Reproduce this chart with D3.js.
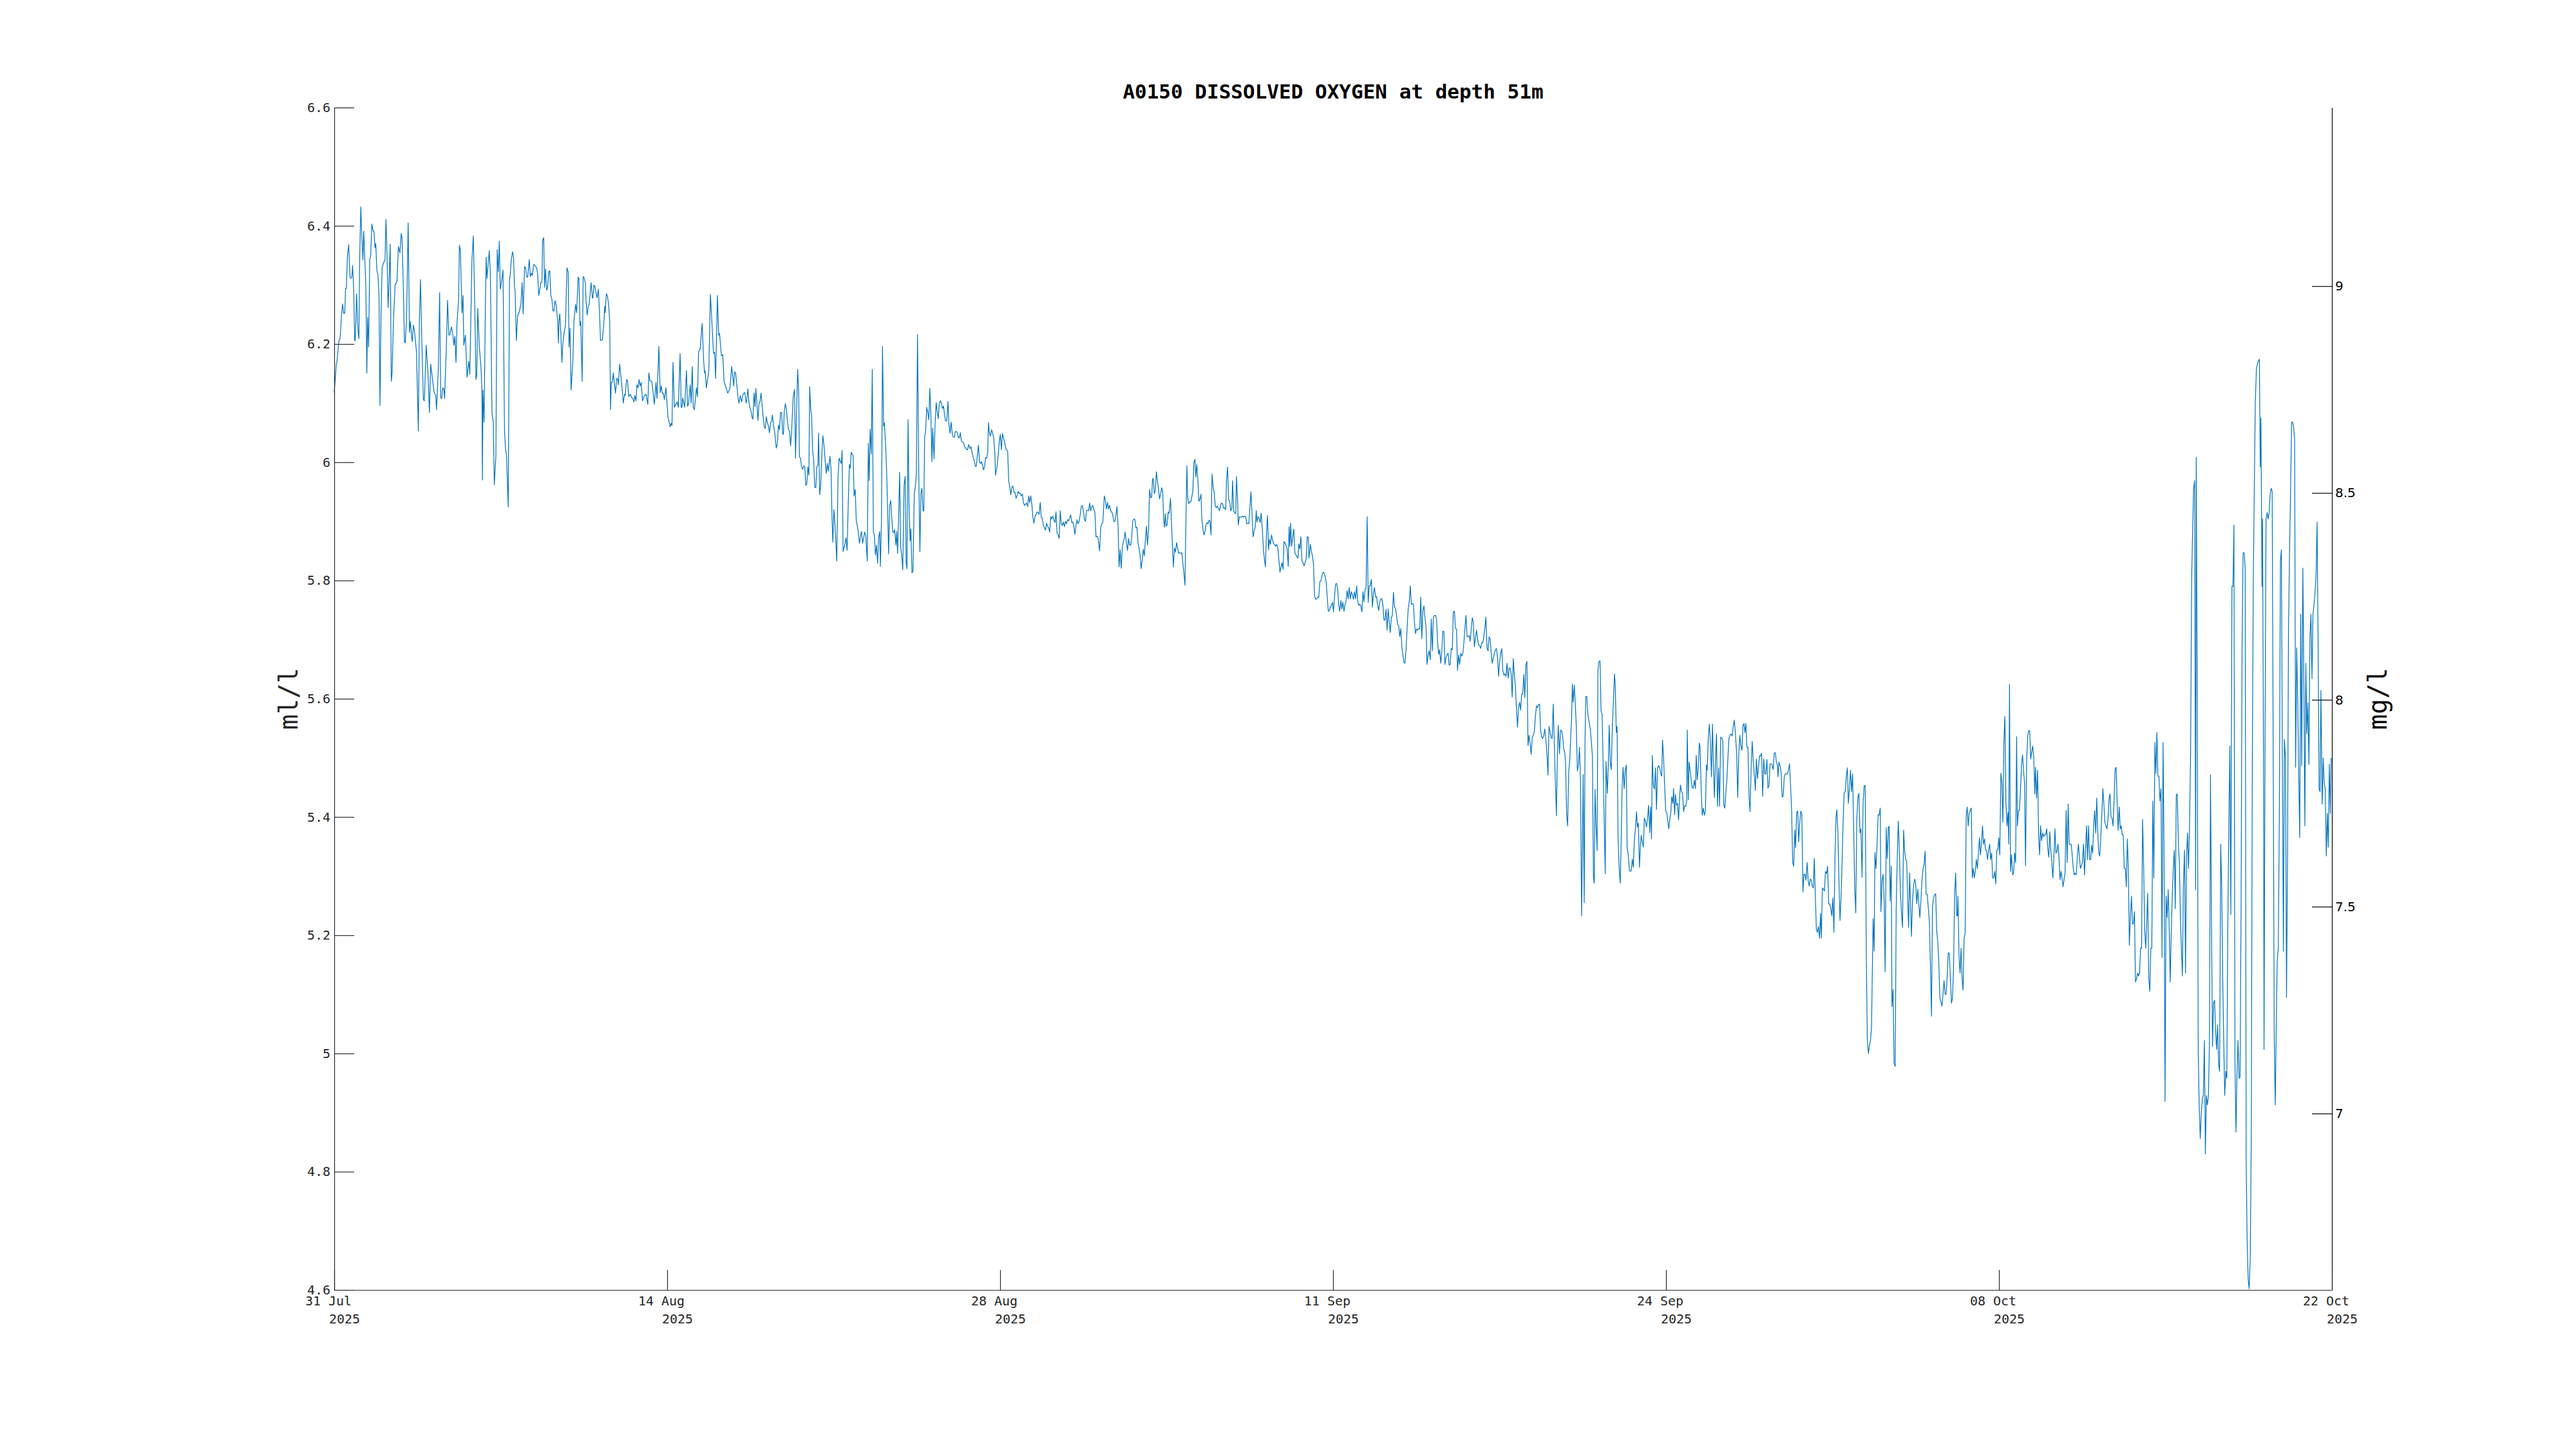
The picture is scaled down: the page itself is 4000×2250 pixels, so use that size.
<!DOCTYPE html>
<html><head><meta charset="utf-8">
<script src="https://cdn.jsdelivr.net/npm/d3@7"></script>
<style>html,body{margin:0;padding:0;background:#fff;}svg{display:block}</style>
</head><body>
<svg id="chart" width="4000" height="2250"></svg>
<script>
const chartTitle = "A0150 DISSOLVED OXYGEN at depth 51m";
const leftLabel = "ml/l";
const rightLabel = "mg/l";
const startTime = "2025-07-31T12:00:00Z";
const endTime = "2025-10-22T12:00:00Z";
const xTickTimes = ["2025-07-31T12:00:00Z","2025-08-14T08:00:00Z","2025-08-28T04:00:00Z","2025-09-11T00:00:00Z","2025-09-24T20:00:00Z","2025-10-08T16:00:00Z","2025-10-22T12:00:00Z"];
const yTicksMl = [4.6,4.8,5,5.2,5.4,5.6,5.8,6,6.2,6.4,6.6];
const yTicksMg = [7,7.5,8,8.5,9];
const mlToMg = 1.42903;

// [hours since start, dissolved oxygen ml/l]
const part1 = [[0,6.118],[2.1,6.166],[2.6,6.169],[4.7,6.206],[5.8,6.209],[7.3,6.249],[8.4,6.268],[9.4,6.252],[10.5,6.252],[11.3,6.294],[12.1,6.294],[13.1,6.347],[14.4,6.368],[15.7,6.314],[16.5,6.311],[17.6,6.314],[18.3,6.333],[19.4,6.293],[20.4,6.206],[21.0,6.206],[22.3,6.285],[23.6,6.224],[24.6,6.209],[25.4,6.347],[26.5,6.432],[27.5,6.383],[28.6,6.342],[29.4,6.391],[30.4,6.347],[31.5,6.300],[32.5,6.151],[33.3,6.245],[34.3,6.195],[35.4,6.342],[36.4,6.351],[37.5,6.403],[38.8,6.391],[39.6,6.391],[40.6,6.363],[41.4,6.370],[42.5,6.324],[43.5,6.318],[44.6,6.285],[45.6,6.096],[46.7,6.253],[47.7,6.327],[48.8,6.336],[49.8,6.340],[50.6,6.341],[51.6,6.411],[52.7,6.347],[53.7,6.262],[54.8,6.311],[55.8,6.369],[56.9,6.137],[57.7,6.151],[59.0,6.238],[60.8,6.302],[61.6,6.302],[62.6,6.307],[64.0,6.365],[65.5,6.354],[66.8,6.387],[67.6,6.380],[68.9,6.296],[70.0,6.204],[70.8,6.202],[72.1,6.242],[73.7,6.405],[75.0,6.220],[76.0,6.238],[77.1,6.213],[77.8,6.204],[78.9,6.232],[79.9,6.224],[82.0,6.187],[83.9,6.053],[84.9,6.238],[86.0,6.309],[87.3,6.209],[88.9,6.106],[89.9,6.104],[91.7,6.198],[93.6,6.147],[94.9,6.084],[96.2,6.166],[97.5,6.147],[99.6,6.118],[101.2,6.113],[102.0,6.089],[103.8,6.158],[105.1,6.287],[106.2,6.109],[107.2,6.108],[108.2,6.126],[109.3,6.124],[110.1,6.108],[111.9,6.202],[113.0,6.274],[114.3,6.215],[115.3,6.216],[116.9,6.229],[118.2,6.216],[119.3,6.198],[120.3,6.213],[121.4,6.169],[122.4,6.235],[124.0,6.274],[124.8,6.367],[125.8,6.358],[127.4,6.253],[128.4,6.282],[129.2,6.198],[130.8,6.215],[132.4,6.144],[134.2,6.171],[135.2,6.149],[137.3,6.342],[138.7,6.383],[140.2,6.256],[141.3,6.140],[142.1,6.147],[143.1,6.260],[144.7,6.195],[146.3,6.162],[147.3,6.122],[147.8,5.970],[148.3,6.122],[149.4,6.068],[150.7,6.260],[151.5,6.347],[152.3,6.311],[154.6,6.358],[155.7,6.318],[157.3,6.082],[158.6,6.068],[159.6,5.962],[161.2,6.010],[162.5,6.360],[163.6,6.322],[164.6,6.374],[165.6,6.293],[166.7,6.304],[168.3,6.325],[169.8,6.053],[170.9,6.020],[171.7,6.015],[173.5,5.924],[174.8,6.313],[175.3,6.313],[176.4,6.340],[177.7,6.356],[178.8,6.347],[179.8,6.294],[180.3,6.293],[181.6,6.206],[182.9,6.249],[184.0,6.251],[186.1,6.267],[187.4,6.304],[188.4,6.251],[189.8,6.331],[190.8,6.329],[191.9,6.314],[192.9,6.313],[194.5,6.343],[195.5,6.314],[196.6,6.320],[197.6,6.316],[198.7,6.334],[199.7,6.334],[200.8,6.331],[201.8,6.329],[202.9,6.318],[203.9,6.282],[205.0,6.293],[206.0,6.304],[207.1,6.304],[207.8,6.376],[208.9,6.380],[209.7,6.296],[210.7,6.327],[211.8,6.291],[212.8,6.296],[213.9,6.322],[214.9,6.324],[216.0,6.282],[217.0,6.276],[218.1,6.256],[219.1,6.256],[220.2,6.273],[221.5,6.264],[222.8,6.238],[223.6,6.202],[224.1,6.238],[224.9,6.251],[225.9,6.220],[227.0,6.169],[228.0,6.202],[229.3,6.220],[230.6,6.231],[232.0,6.329],[233.3,6.322],[234.1,6.195],[235.1,6.227],[236.2,6.122],[238.0,6.173],[239.0,6.238],[240.6,6.267],[241.7,6.253],[243.2,6.313],[244.0,6.311],[245.1,6.231],[245.8,6.238],[247.2,6.137],[248.2,6.314],[249.0,6.313],[250.3,6.304],[251.1,6.274],[252.1,6.249],[253.4,6.264],[254.2,6.267],[256.1,6.304],[257.4,6.278],[257.9,6.278],[259.0,6.300],[260.0,6.296],[262.1,6.278],[263.4,6.293],[264.5,6.253],[265.5,6.206],[267.3,6.207],[268.7,6.231],[269.7,6.264],[270.2,6.253],[271.3,6.285],[272.3,6.282],[273.6,6.267],[274.7,6.238],[275.5,6.089],[276.3,6.135],[277.3,6.135],[278.3,6.151],[280.4,6.117],[281.8,6.142],[282.8,6.140],[283.3,6.131],[284.6,6.166],[286.2,6.140],[288.3,6.100],[289.4,6.115],[290.1,6.113],[291.5,6.140],[292.5,6.138],[293.6,6.111],[295.4,6.115],[296.7,6.109],[297.7,6.108],[298.8,6.102],[299.8,6.113],[300.9,6.104],[301.9,6.131],[303.0,6.126],[304.0,6.140],[305.1,6.129],[306.1,6.135],[307.4,6.104],[309.3,6.113],[310.9,6.115],[312.7,6.098],[313.7,6.151],[314.8,6.138],[316.6,6.137],[317.7,6.122],[319.2,6.098],[320.8,6.135],[321.9,6.108],[323.7,6.196],[325.0,6.118],[326.1,6.129],[327.1,6.117],[328.1,6.117],[329.2,6.106],[330.8,6.126],[332.9,6.075],[335.0,6.060],[336.0,6.066],[336.8,6.062],[337.8,6.169],[339.2,6.093],[340.7,6.098],[342.0,6.102],[343.1,6.093],[344.9,6.184],[346.0,6.093],[346.8,6.093],[347.5,6.109],[349.4,6.093],[351.2,6.155],[352.3,6.095],[353.3,6.098],[354.9,6.131],[355.9,6.100],[357.0,6.162],[358.0,6.093],[359.1,6.089],[361.2,6.126],[362.2,6.111],[363.3,6.187],[364.8,6.191],[366.9,6.235],[368.3,6.173],[369.3,6.151],[369.8,6.155],[371.1,6.126],[373.5,6.155],[375.1,6.284],[378.2,6.184],[379.3,6.186],[380.3,6.142],[382.1,6.282],[383.4,6.215],[384.2,6.218],[386.1,6.180],[387.4,6.182],[388.7,6.137],[390.5,6.127],[392.4,6.117],[394.5,6.124],[396.3,6.162],[398.4,6.129],[399.2,6.153],[400.2,6.151],[402.8,6.108],[403.6,6.100],[404.9,6.113],[406.3,6.102],[407.6,6.115],[409.4,6.118],[410.7,6.100]];

const part2 = [[411.5,6.107],[412.5,6.124],[413.6,6.101],[414.6,6.092],[415.7,6.086],[416.7,6.075],[417.5,6.073],[418.6,6.117],[419.6,6.094],[420.4,6.125],[421.5,6.099],[422.5,6.071],[423.5,6.098],[424.6,6.103],[425.6,6.117],[426.7,6.096],[427.7,6.076],[428.8,6.060],[429.8,6.057],[430.9,6.077],[431.9,6.067],[433.0,6.061],[434.0,6.050],[435.1,6.067],[436.1,6.069],[436.9,6.080],[438.0,6.063],[439.3,6.049],[440.8,6.024],[441.9,6.031],[442.9,6.063],[444.0,6.055],[445.0,6.084],[446.1,6.084],[447.1,6.049],[447.9,6.047],[448.7,6.085],[449.8,6.099],[450.8,6.090],[451.9,6.070],[452.9,6.056],[454.0,6.052],[455.0,6.028],[456.0,6.049],[457.6,6.110],[458.9,6.123],[460.0,6.007],[461.0,6.085],[462.1,6.157],[463.1,6.121],[463.9,6.009],[465.0,6.007],[466.0,5.992],[467.1,5.988],[468.1,5.994],[469.2,5.993],[470.2,5.961],[471.2,5.963],[472.3,5.992],[473.3,5.978],[474.1,6.128],[475.2,6.088],[476.0,6.079],[477.0,6.019],[478.1,6.005],[479.1,5.958],[480.2,5.957],[481.2,5.992],[482.3,5.995],[483.0,6.049],[484.1,5.945],[485.1,5.961],[486.2,6.012],[487.2,6.045],[488.5,6.027],[489.6,6.001],[490.6,5.981],[491.7,5.998],[492.7,5.985],[494.3,6.010],[495.4,5.987],[496.4,5.903],[497.2,5.865],[498.2,5.920],[499.3,5.896],[501.1,5.833],[502.4,5.978],[503.5,6.007],[504.8,6.001],[505.6,5.998],[506.4,6.020],[507.4,5.849],[509.0,5.860],[510.3,5.872],[511.4,5.851],[512.7,5.940],[513.7,5.996],[514.5,5.990],[515.5,6.017],[517.4,6.011],[518.4,5.943],[519.5,5.954],[520.5,5.903],[522.6,5.882],[523.7,5.863],[524.7,5.874],[525.8,5.883],[526.8,5.863],[527.9,5.872],[528.9,5.882],[530.0,5.876],[531.5,5.833],[532.6,6.032],[533.4,5.969],[534.4,6.056],[535.5,6.014],[536.5,6.157],[537.6,5.882],[538.6,5.876],[539.7,5.843],[540.7,5.860],[541.8,5.829],[542.8,5.872],[543.9,5.883],[544.6,5.824],[545.7,5.903],[546.7,6.196],[547.8,6.061],[548.6,6.067],[549.9,6.027],[550.9,5.980],[552.0,5.903],[552.8,5.845],[553.8,5.927],[554.9,5.935],[555.9,5.907],[557.0,5.882],[558.0,5.881],[558.8,5.886],[560.1,5.860],[560.9,5.883],[561.7,5.846],[562.7,5.903],[563.8,5.983],[564.8,5.856],[565.9,5.842],[566.9,5.818],[568.2,5.961],[569.3,5.976],[570.3,5.831],[571.1,5.820],[572.2,6.072],[573.2,5.921],[574.3,5.867],[575.0,5.887],[576.1,5.813],[577.1,5.816],[578.4,5.947],[579.5,5.958],[580.5,5.983],[581.6,6.216],[582.9,5.976],[584.0,5.849],[585.0,5.947],[586.0,5.956],[587.1,5.918],[587.9,5.918],[588.7,6.043],[589.7,6.052],[590.8,6.093],[591.8,6.085],[592.9,6.072],[593.9,6.125],[595.0,6.078],[596.0,6.001],[596.8,6.058],[598.1,6.006],[599.2,6.067],[600.2,6.101],[601.3,6.085],[602.3,6.074],[603.3,6.099],[604.4,6.104],[605.4,6.100],[606.5,6.091],[607.5,6.095],[608.6,6.080],[609.6,6.070],[610.7,6.070],[612.0,6.103],[613.0,6.063],[614.1,6.049],[615.1,6.068],[616.2,6.049],[617.2,6.043],[618.3,6.042],[619.3,6.052],[620.4,6.052],[621.4,6.049],[622.5,6.042],[623.3,6.041],[624.3,6.050],[625.4,6.036],[626.4,6.034],[627.5,6.033],[628.5,6.027],[629.8,6.023],[631.4,6.021],[632.7,6.030],[634.0,6.023],[635.1,6.026],[636.1,6.016],[637.2,6.008],[638.2,6.003],[639.3,5.993],[640.3,5.993],[641.4,6.013],[642.4,6.029],[643.4,6.001],[644.5,5.998],[645.3,6.001],[646.3,5.996],[647.4,5.987],[648.4,5.992],[649.5,6.008],[650.5,6.007],[651.6,6.016],[652.4,6.067],[653.1,6.052],[654.2,6.044],[655.5,6.055],[656.6,6.049],[657.6,6.041],[658.7,6.016],[659.4,5.978],[660.8,5.992],[662.1,6.012],[663.1,6.034],[664.2,6.047],[665.2,6.021],[666.3,6.049],[667.3,6.041],[668.4,6.034],[669.9,6.022],[671.5,6.019],[672.5,5.970],[673.6,5.958],[674.6,5.945],[675.7,5.958],[676.7,5.960],[677.8,5.949],[678.8,5.949],[679.9,5.939],[680.9,5.943],[682.0,5.951],[683.0,5.947],[684.1,5.948],[685.1,5.943],[686.2,5.946],[687.2,5.932],[688.3,5.927],[689.3,5.929],[690.4,5.931],[691.4,5.925],[692.5,5.943],[693.5,5.932],[694.6,5.943],[695.6,5.929],[696.7,5.907],[697.7,5.897],[698.8,5.909],[699.8,5.911],[700.8,5.916],[701.9,5.915],[702.9,5.912],[704.0,5.932],[705.0,5.907],[706.1,5.905],[707.1,5.894],[708.2,5.889],[709.2,5.885],[710.3,5.897],[711.3,5.892],[712.4,5.889],[713.4,5.882],[714.5,5.908],[715.5,5.904],[716.6,5.909],[717.6,5.903],[718.7,5.898],[719.7,5.916],[720.8,5.880],[721.8,5.878],[722.9,5.871],[723.9,5.918],[725.0,5.896],[726.0,5.893],[727.1,5.899],[728.1,5.891],[729.2,5.900],[730.2,5.896],[731.3,5.903],[732.3,5.901],[733.4,5.906],[734.4,5.911],[735.4,5.898],[736.5,5.899],[737.5,5.892],[738.6,5.878],[739.6,5.893],[740.7,5.903],[741.7,5.896],[742.8,5.900],[743.8,5.911],[744.9,5.925],[745.9,5.927],[747.0,5.918],[748.0,5.904],[749.1,5.900],[750.1,5.918],[751.2,5.919],[752.2,5.918],[753.3,5.931],[754.3,5.918],[755.4,5.925],[756.4,5.927],[757.5,5.920],[758.5,5.915],[759.6,5.874],[760.6,5.875],[761.7,5.871],[763.2,5.850],[764.3,5.889],[765.3,5.896],[766.4,5.898],[767.9,5.943],[769.0,5.936],[770.0,5.921],[771.1,5.932],[772.1,5.921],[773.2,5.927],[774.2,5.918],[775.3,5.916],[776.3,5.911],[777.4,5.900],[778.4,5.900],[779.5,5.911],[780.5,5.925],[781.6,5.892],[782.6,5.823],[783.7,5.852],[784.7,5.821],[785.8,5.856],[786.8,5.865],[787.9,5.872],[788.6,5.882],[790.0,5.863],[791.0,5.851],[792.1,5.871],[793.1,5.860],[794.2,5.860],[795.2,5.874],[796.3,5.901],[797.3,5.904],[798.4,5.903],[799.4,5.889],[800.4,5.890],[801.5,5.863],[802.5,5.855],[803.6,5.842],[804.6,5.820],[805.7,5.834],[806.7,5.853],[807.8,5.842],[808.8,5.867],[809.9,5.892],[810.9,5.860],[812.0,5.885],[813.0,5.954],[814.1,5.940],[815.1,5.941],[815.9,5.970]];

const part3 = [[816.6,5.973],[817.7,5.947],[818.7,5.952],[819.8,5.984],[820.8,5.969],[821.9,5.955],[822.9,5.938],[824.0,5.946],[825.0,5.957],[826.1,5.950],[827.1,5.902],[827.9,5.890],[828.7,5.913],[829.5,5.892],[830.5,5.894],[831.6,5.916],[832.6,5.914],[833.9,5.939],[835.0,5.891],[836.0,5.852],[836.8,5.823],[837.8,5.855],[838.9,5.848],[839.9,5.864],[841.0,5.855],[842.0,5.846],[843.4,5.847],[844.4,5.846],[845.2,5.847],[846.5,5.824],[847.5,5.808],[848.3,5.792],[849.1,5.880],[850.2,5.994],[851.0,5.941],[852.0,5.930],[853.0,5.933],[854.1,5.933],[855.1,5.941],[856.2,5.952],[857.2,5.999],[858.3,6.005],[859.1,5.975],[860.1,5.996],[861.2,5.969],[862.2,5.934],[863.3,5.938],[864.3,5.946],[865.1,5.905],[866.2,5.888],[867.2,5.877],[868.3,5.883],[869.3,5.894],[870.3,5.898],[871.4,5.896],[872.2,5.902],[873.2,5.901],[874.3,5.877],[875.3,5.980],[876.4,5.958],[877.4,5.950],[878.5,5.926],[879.5,5.923],[880.6,5.926],[881.6,5.922],[882.7,5.918],[883.7,5.927],[884.8,5.931],[885.8,5.930],[886.9,5.922],[887.9,5.923],[889.0,5.920],[889.7,5.969],[890.8,5.992],[891.8,5.938],[892.9,5.933],[893.9,5.918],[895.0,5.922],[895.8,5.969],[896.8,5.918],[897.9,5.914],[898.9,5.913],[899.7,5.976],[900.7,5.938],[901.5,5.894],[902.6,5.908],[903.6,5.907],[904.7,5.908],[905.7,5.909],[906.8,5.907],[907.8,5.909],[908.9,5.908],[909.9,5.896],[911.0,5.897],[912.0,5.896],[913.1,5.924],[914.1,5.950],[915.2,5.911],[916.2,5.874],[917.3,5.883],[918.3,5.890],[919.4,5.918],[920.1,5.899],[921.2,5.908],[922.2,5.905],[923.3,5.898],[924.3,5.914],[925.4,5.888],[926.7,5.849],[927.7,5.834],[928.5,5.823],[929.6,5.880],[930.6,5.910],[931.7,5.852],[932.5,5.870],[933.5,5.861],[934.6,5.877],[935.6,5.869],[936.7,5.862],[937.7,5.861],[938.8,5.858],[939.8,5.861],[940.9,5.855],[941.9,5.836],[943.0,5.814],[944.0,5.822],[945.0,5.830],[946.1,5.819],[947.1,5.866],[948.2,5.863],[949.2,5.859],[950.3,5.852],[951.3,5.824],[952.1,5.891],[952.9,5.858],[953.7,5.897],[954.7,5.858],[955.8,5.874],[956.8,5.887],[957.9,5.847],[958.9,5.844],[960.0,5.840],[961.0,5.838],[961.8,5.862],[962.9,5.853],[963.9,5.874],[965.0,5.833],[966.0,5.830],[967.1,5.825],[968.1,5.830],[969.2,5.837],[970.2,5.874],[971.3,5.873],[972.0,5.838],[973.4,5.861],[974.4,5.849],[975.4,5.842],[976.5,5.827],[977.5,5.774],[978.6,5.768],[979.6,5.769],[980.7,5.772],[981.7,5.771],[982.8,5.798],[983.8,5.799],[984.9,5.808],[985.9,5.814],[987.0,5.813],[988.0,5.807],[989.1,5.798],[990.1,5.774],[991.2,5.748],[992.2,5.749],[993.3,5.755],[994.3,5.758],[995.4,5.763],[996.4,5.747],[997.5,5.774],[998.5,5.794],[999.6,5.795],[1000.6,5.785],[1001.7,5.758],[1002.7,5.748],[1003.8,5.766],[1004.8,5.752],[1005.8,5.763],[1006.9,5.748],[1007.9,5.759],[1009.0,5.766],[1010.0,5.783],[1011.1,5.769],[1012.1,5.788],[1013.2,5.769],[1014.2,5.781],[1015.3,5.776],[1016.3,5.768],[1017.4,5.781],[1018.4,5.769],[1019.5,5.791],[1020.5,5.766],[1021.6,5.758],[1022.6,5.760],[1023.7,5.757],[1024.7,5.747],[1025.8,5.781],[1026.8,5.764],[1027.9,5.785],[1028.9,5.788],[1030.0,5.908],[1031.0,5.763],[1032.1,5.791],[1033.1,5.791],[1034.2,5.802],[1035.2,5.755],[1036.3,5.779],[1037.3,5.788],[1038.4,5.772],[1039.4,5.773],[1040.4,5.758],[1041.5,5.749],[1042.5,5.763],[1043.6,5.769],[1044.6,5.769],[1045.7,5.758],[1046.7,5.733],[1047.8,5.733],[1048.8,5.751],[1049.9,5.716],[1050.9,5.752],[1052.0,5.730],[1053.0,5.712],[1054.1,5.737],[1055.1,5.741],[1056.2,5.780],[1057.2,5.755],[1058.3,5.753],[1059.3,5.742],[1060.4,5.725],[1061.4,5.724],[1062.5,5.705],[1063.5,5.719],[1064.6,5.688],[1065.6,5.674],[1066.7,5.662],[1067.7,5.660],[1068.8,5.685],[1069.8,5.719],[1070.9,5.752],[1071.9,5.763],[1073.0,5.791],[1074.0,5.760],[1075.0,5.761],[1076.1,5.760],[1077.1,5.730],[1078.2,5.710],[1079.2,5.718],[1080.3,5.716],[1081.3,5.719],[1082.4,5.718],[1083.4,5.772],[1084.5,5.702],[1085.5,5.749],[1086.6,5.757],[1087.6,5.737],[1088.7,5.722],[1089.7,5.658],[1090.8,5.674],[1091.8,5.681],[1092.9,5.666],[1093.9,5.735],[1095.0,5.681],[1096.0,5.738],[1097.1,5.741],[1098.1,5.741],[1099.2,5.735],[1100.2,5.697],[1101.3,5.675],[1102.3,5.683],[1103.4,5.660],[1104.4,5.679],[1105.4,5.714],[1106.5,5.714],[1107.5,5.658],[1108.6,5.670],[1109.6,5.674],[1110.7,5.677],[1111.7,5.657],[1112.8,5.658],[1113.8,5.685],[1114.9,5.683],[1115.9,5.747],[1117.0,5.748],[1118.0,5.719],[1119.1,5.718],[1120.1,5.648],[1121.2,5.674],[1122.2,5.658],[1123.3,5.677],[1124.3,5.672],[1125.4,5.677],[1126.4,5.694],[1127.5,5.719],[1128.5,5.741],[1129.6,5.705],[1130.6,5.705],[1131.7,5.707],[1132.7,5.697],[1133.8,5.719],[1134.8,5.737],[1135.8,5.730],[1136.9,5.688],[1137.9,5.702],[1139.0,5.716],[1140.0,5.702],[1141.1,5.691],[1142.1,5.690],[1143.2,5.685],[1144.2,5.695],[1145.3,5.695],[1146.3,5.705],[1147.4,5.720],[1148.4,5.738],[1149.5,5.686],[1150.5,5.681],[1151.6,5.705],[1152.6,5.701],[1153.7,5.677],[1154.7,5.660],[1155.8,5.669],[1156.8,5.677],[1157.9,5.683],[1158.9,5.685],[1160.0,5.669],[1161.0,5.638],[1162.1,5.663],[1163.1,5.677],[1164.2,5.685],[1165.2,5.648],[1166.3,5.640],[1167.3,5.642],[1168.4,5.638],[1169.4,5.660],[1170.5,5.635],[1171.5,5.652],[1172.5,5.652],[1173.6,5.641],[1174.6,5.603],[1175.7,5.668],[1176.7,5.641],[1177.8,5.621],[1178.8,5.585],[1179.9,5.552],[1180.9,5.584],[1182.0,5.594],[1183.0,5.581],[1184.1,5.608],[1185.1,5.608],[1186.2,5.641],[1187.2,5.602],[1188.3,5.658],[1189.3,5.663],[1190.4,5.521],[1191.4,5.538],[1192.5,5.524],[1193.5,5.506],[1194.6,5.535],[1195.6,5.538],[1196.7,5.544],[1197.7,5.569],[1198.8,5.588],[1199.8,5.585],[1200.9,5.590],[1201.9,5.591],[1203.0,5.546],[1204.0,5.535],[1205.0,5.533],[1206.1,5.538],[1207.1,5.549],[1208.2,5.530],[1209.2,5.508],[1210.3,5.471],[1211.3,5.553],[1212.4,5.544],[1213.4,5.534],[1214.5,5.533],[1215.5,5.591],[1216.6,5.524],[1217.6,5.463],[1218.7,5.402],[1219.7,5.508],[1220.5,5.555]];

const part4 = [[1221.8,5.507],[1222.8,5.547],[1224.1,5.545],[1225.2,5.533],[1226.0,5.515],[1227.0,5.509],[1227.8,5.493],[1228.9,5.404],[1229.9,5.385],[1231.0,5.478],[1232.0,5.495],[1233.1,5.543],[1233.8,5.563],[1234.6,5.625],[1235.4,5.594],[1236.5,5.623],[1237.5,5.593],[1238.6,5.550],[1239.6,5.478],[1240.7,5.488],[1241.7,5.518],[1242.8,5.458],[1243.8,5.233],[1244.6,5.343],[1245.4,5.472],[1246.4,5.255],[1247.2,5.528],[1248.0,5.604],[1249.0,5.604],[1250.1,5.573],[1251.4,5.560],[1252.5,5.548],[1253.5,5.528],[1254.6,5.503],[1255.6,5.298],[1256.4,5.288],[1257.2,5.447],[1258.2,5.388],[1259.3,5.343],[1260.1,5.648],[1261.1,5.663],[1262.2,5.664],[1263.2,5.580],[1264.3,5.573],[1266.1,5.413],[1267.4,5.304],[1268.2,5.494],[1269.5,5.440],[1270.5,5.493],[1271.3,5.555],[1272.4,5.493],[1273.4,5.480],[1274.5,5.555],[1275.5,5.593],[1276.6,5.642],[1277.4,5.623],[1278.4,5.543],[1279.2,5.553],[1280.2,5.363],[1281.3,5.313],[1282.3,5.288],[1283.1,5.343],[1284.2,5.448],[1285.2,5.484],[1286.3,5.448],[1287.3,5.478],[1288.4,5.488],[1289.2,5.348],[1290.2,5.338],[1291.5,5.310],[1292.3,5.308],[1293.3,5.309],[1294.4,5.329],[1295.4,5.315],[1296.5,5.363],[1297.5,5.380],[1298.6,5.409],[1299.4,5.383],[1300.4,5.390],[1301.5,5.315],[1302.5,5.353],[1303.3,5.369],[1304.4,5.357],[1305.4,5.349],[1306.4,5.398],[1307.5,5.393],[1308.5,5.383],[1309.6,5.398],[1310.6,5.420],[1311.7,5.374],[1312.7,5.417],[1313.5,5.363],[1314.3,5.504],[1315.4,5.453],[1316.4,5.447],[1317.5,5.483],[1318.5,5.413],[1319.6,5.483],[1320.6,5.487],[1321.7,5.483],[1322.7,5.473],[1323.7,5.469],[1324.5,5.530],[1325.6,5.498],[1326.6,5.454],[1327.7,5.410],[1328.7,5.408],[1329.8,5.393],[1330.8,5.380],[1331.9,5.398],[1332.9,5.410],[1333.7,5.434],[1334.8,5.423],[1335.5,5.448],[1336.6,5.404],[1337.4,5.438],[1338.4,5.420],[1339.5,5.423],[1340.5,5.395],[1341.6,5.435],[1342.4,5.454],[1343.4,5.443],[1344.5,5.440],[1345.5,5.409],[1346.6,5.419],[1347.6,5.418],[1348.6,5.428],[1349.2,5.547],[1350.2,5.429],[1351.0,5.493],[1352.1,5.478],[1353.1,5.463],[1354.2,5.449],[1355.2,5.449],[1356.3,5.462],[1357.3,5.448],[1358.1,5.504],[1359.1,5.463],[1360.2,5.483],[1361.2,5.525],[1362.0,5.518],[1363.1,5.443],[1364.1,5.403],[1365.2,5.415],[1366.2,5.403],[1367.3,5.410],[1368.3,5.488],[1369.1,5.479],[1370.1,5.533],[1371.2,5.557],[1372.2,5.528],[1373.3,5.468],[1374.3,5.557],[1375.1,5.500],[1376.2,5.433],[1377.2,5.488],[1378.3,5.540],[1379.3,5.418],[1380.4,5.483],[1381.4,5.418],[1382.5,5.535],[1383.5,5.534],[1384.6,5.528],[1385.6,5.420],[1386.7,5.415],[1387.7,5.443],[1388.7,5.463],[1389.8,5.503],[1390.8,5.534],[1391.9,5.539],[1392.9,5.540],[1394.0,5.537],[1395.0,5.553],[1396.1,5.564],[1397.1,5.543],[1398.4,5.508],[1399.5,5.433],[1400.5,5.505],[1401.6,5.538],[1402.6,5.520],[1403.7,5.513],[1404.7,5.555],[1405.8,5.558],[1406.6,5.543],[1407.6,5.558],[1408.7,5.518],[1409.7,5.518],[1410.8,5.433],[1411.8,5.409],[1412.9,5.485],[1413.9,5.528],[1415.0,5.493],[1416.0,5.473],[1417.1,5.445],[1418.1,5.498],[1419.2,5.465],[1420.2,5.485],[1421.3,5.504],[1422.3,5.503],[1423.3,5.508],[1424.4,5.435],[1425.4,5.498],[1426.5,5.473],[1427.5,5.473],[1428.6,5.497],[1429.6,5.449],[1430.7,5.453],[1431.7,5.490],[1432.8,5.490],[1433.8,5.488],[1434.9,5.480],[1435.9,5.508],[1437.0,5.509],[1438.0,5.493],[1439.1,5.488],[1439.6,5.468],[1440.6,5.493],[1441.7,5.487],[1442.7,5.477],[1443.8,5.434],[1444.8,5.435],[1445.9,5.468],[1446.9,5.473],[1448.0,5.473],[1449.0,5.473],[1450.1,5.480],[1451.1,5.490],[1452.2,5.453],[1453.2,5.413],[1454.3,5.323],[1455.3,5.317],[1456.4,5.378],[1457.2,5.348],[1458.2,5.408],[1459.3,5.410],[1460.3,5.358],[1461.3,5.390],[1462.4,5.410],[1463.4,5.405],[1464.5,5.273],[1465.5,5.303],[1466.6,5.303],[1467.6,5.293],[1468.7,5.323],[1469.7,5.293],[1470.8,5.283],[1471.8,5.295],[1472.9,5.293],[1473.9,5.282],[1475.0,5.280],[1475.8,5.330],[1476.8,5.274],[1477.9,5.210],[1478.9,5.205],[1480.0,5.215],[1481.0,5.195],[1482.1,5.237],[1482.8,5.195],[1483.9,5.280],[1484.9,5.278],[1486.0,5.275],[1487.0,5.308],[1488.1,5.304],[1489.1,5.317],[1490.2,5.253],[1491.2,5.253],[1492.3,5.245],[1493.3,5.233],[1494.4,5.263],[1495.4,5.205],[1496.5,5.333],[1497.5,5.400],[1498.3,5.412],[1499.4,5.373],[1500.4,5.293],[1501.5,5.225],[1502.5,5.263],[1503.5,5.318],[1504.6,5.393],[1505.6,5.440],[1506.7,5.443],[1507.7,5.468],[1508.8,5.483],[1509.8,5.423],[1510.9,5.448],[1511.9,5.479],[1513.0,5.443],[1514.0,5.473],[1515.1,5.383],[1516.1,5.283],[1517.2,5.238],[1518.2,5.393],[1519.3,5.433],[1520.3,5.440],[1521.4,5.373],[1522.4,5.380],[1523.5,5.298],[1524.5,5.423],[1525.6,5.453],[1526.6,5.453],[1527.7,5.168],[1528.7,5.023],[1529.8,5.000],[1530.8,5.013],[1531.9,5.023],[1532.9,5.043],[1534.0,5.173],[1534.5,5.228],[1535.5,5.173],[1536.3,5.340],[1537.4,5.313],[1538.4,5.353],[1539.5,5.404],[1540.5,5.403],[1541.6,5.415],[1542.3,5.240],[1543.4,5.293],[1544.4,5.303],[1545.5,5.258],[1546.5,5.138],[1547.6,5.382],[1548.6,5.330],[1549.7,5.383],[1550.5,5.384],[1551.5,5.258],[1552.6,5.317],[1553.3,5.079],[1554.4,5.108],[1555.4,4.983],[1556.5,4.978],[1557.5,5.243],[1558.6,5.333],[1559.6,5.393],[1560.7,5.343],[1561.7,5.273],[1562.8,5.238],[1563.8,5.213],[1564.9,5.378],[1565.9,5.343],[1567.0,5.328],[1568.0,5.325],[1569.1,5.253],[1569.9,5.213],[1570.9,5.305],[1571.9,5.248],[1572.7,5.198],[1573.8,5.258],[1574.8,5.283],[1575.9,5.295],[1576.9,5.288],[1578.0,5.253],[1579.0,5.278],[1580.1,5.253],[1581.1,5.230],[1582.2,5.258],[1583.2,5.293],[1584.3,5.313],[1585.3,5.319],[1586.4,5.342],[1587.4,5.269],[1588.5,5.269],[1589.5,5.247],[1590.6,5.223],[1591.6,5.153],[1592.7,5.063],[1593.7,5.248],[1594.8,5.263],[1595.8,5.268],[1596.9,5.270],[1597.9,5.208],[1599.0,5.188],[1600.0,5.153],[1601.1,5.093],[1602.1,5.088],[1603.1,5.080],[1604.2,5.100],[1605.2,5.123],[1606.3,5.100],[1607.3,5.100],[1608.4,5.133],[1609.4,5.170],[1610.5,5.170],[1611.5,5.128],[1612.6,5.085],[1613.6,5.093],[1614.7,5.143],[1615.7,5.265],[1616.8,5.305],[1617.8,5.233],[1618.6,5.233]];

const part5 = [[1619.1,5.266],[1620.2,5.162],[1621.2,5.136],[1622.2,5.178],[1623.2,5.126],[1624.2,5.107],[1625.2,5.194],[1626.3,5.204],[1627.3,5.401],[1628.3,5.417],[1629.3,5.385],[1630.3,5.406],[1631.3,5.411],[1632.4,5.415],[1633.4,5.297],[1634.4,5.313],[1635.4,5.297],[1636.4,5.308],[1637.4,5.328],[1638.5,5.313],[1639.5,5.339],[1640.5,5.365],[1641.5,5.336],[1642.5,5.354],[1643.6,5.385],[1644.6,5.354],[1645.6,5.363],[1646.6,5.344],[1647.6,5.344],[1648.6,5.328],[1649.7,5.344],[1650.7,5.354],[1651.7,5.328],[1652.7,5.339],[1653.7,5.297],[1654.7,5.297],[1655.8,5.308],[1656.8,5.287],[1657.8,5.344],[1658.8,5.344],[1659.8,5.365],[1660.8,5.336],[1661.9,5.474],[1662.9,5.458],[1663.9,5.391],[1664.9,5.526],[1665.9,5.570],[1666.9,5.427],[1668.0,5.385],[1669.0,5.408],[1669.7,5.354],[1670.5,5.624],[1671.5,5.308],[1672.5,5.336],[1673.6,5.302],[1674.6,5.305],[1675.6,5.339],[1676.6,5.323],[1677.6,5.536],[1678.4,5.385],[1679.4,5.411],[1680.4,5.411],[1681.4,5.443],[1682.5,5.489],[1683.5,5.505],[1684.5,5.479],[1685.5,5.458],[1686.5,5.318],[1687.5,5.489],[1688.6,5.536],[1689.6,5.546],[1690.6,5.546],[1691.6,5.498],[1692.6,5.510],[1693.6,5.520],[1694.7,5.500],[1695.7,5.439],[1696.4,5.484],[1697.5,5.432],[1698.5,5.479],[1699.5,5.370],[1700.5,5.336],[1701.5,5.385],[1702.5,5.360],[1703.6,5.373],[1704.6,5.367],[1705.6,5.370],[1706.6,5.370],[1707.6,5.380],[1708.7,5.346],[1709.7,5.332],[1710.7,5.375],[1711.7,5.344],[1712.7,5.323],[1713.7,5.297],[1714.8,5.332],[1715.8,5.380],[1716.8,5.339],[1717.8,5.342],[1718.8,5.354],[1719.8,5.334],[1720.9,5.294],[1721.9,5.308],[1722.9,5.297],[1723.9,5.282],[1724.9,5.294],[1725.9,5.305],[1727.0,5.411],[1728.0,5.323],[1729.0,5.422],[1730.0,5.354],[1731.0,5.354],[1732.0,5.354],[1733.1,5.334],[1734.1,5.313],[1735.1,5.302],[1736.1,5.305],[1737.1,5.302],[1738.2,5.334],[1739.2,5.354],[1740.2,5.334],[1741.2,5.313],[1742.2,5.318],[1743.2,5.323],[1744.3,5.354],[1745.3,5.302],[1746.3,5.344],[1747.3,5.385],[1748.3,5.328],[1749.3,5.385],[1750.4,5.328],[1751.4,5.328],[1752.4,5.352],[1753.4,5.339],[1754.4,5.385],[1755.4,5.411],[1756.5,5.373],[1757.5,5.432],[1758.5,5.375],[1759.5,5.339],[1760.5,5.334],[1761.5,5.365],[1762.6,5.406],[1763.6,5.448],[1764.6,5.422],[1765.6,5.391],[1766.6,5.385],[1767.7,5.380],[1768.7,5.396],[1769.7,5.429],[1770.7,5.439],[1771.7,5.401],[1772.7,5.398],[1773.8,5.385],[1774.8,5.429],[1775.8,5.481],[1776.8,5.484],[1777.8,5.427],[1778.8,5.377],[1779.9,5.417],[1780.9,5.380],[1781.9,5.385],[1782.9,5.370],[1783.9,5.370],[1784.9,5.313],[1786.0,5.313],[1787.0,5.282],[1788.0,5.363],[1789.0,5.313],[1790.0,5.183],[1791.0,5.230],[1792.1,5.266],[1793.1,5.219],[1794.1,5.219],[1795.1,5.240],[1796.1,5.121],[1797.1,5.126],[1798.2,5.136],[1799.2,5.131],[1800.2,5.136],[1801.2,5.178],[1802.2,5.178],[1803.2,5.396],[1804.3,5.313],[1805.3,5.209],[1806.3,5.178],[1807.3,5.219],[1808.3,5.271],[1809.4,5.126],[1810.4,5.105],[1811.4,5.178],[1812.4,5.178],[1813.4,5.427],[1814.4,5.297],[1815.5,5.526],[1816.5,5.474],[1817.5,5.543],[1818.5,5.469],[1819.5,5.469],[1820.5,5.427],[1821.6,5.448],[1822.6,5.162],[1823.6,5.526],[1824.6,5.344],[1825.6,4.919],[1826.6,5.266],[1827.7,5.230],[1828.7,5.277],[1829.7,5.219],[1830.7,5.121],[1831.7,5.199],[1832.8,5.266],[1833.8,5.313],[1834.8,5.344],[1835.8,5.245],[1836.8,5.437],[1837.8,5.439],[1838.9,5.354],[1839.9,5.323],[1840.9,5.230],[1841.9,5.178],[1842.9,5.131],[1843.9,5.282],[1845.0,5.344],[1846.0,5.136],[1847.0,5.334],[1848.0,5.373],[1849.0,5.313],[1850.0,5.385],[1851.1,5.510],[1852.1,5.801],[1853.1,5.884],[1854.1,5.956],[1855.1,5.969],[1856.1,5.277],[1856.7,6.008],[1857.7,5.593],[1858.7,5.002],[1859.7,4.908],[1860.7,4.856],[1861.7,4.898],[1862.8,4.924],[1863.8,4.929],[1864.8,5.022],[1865.8,4.830],[1866.8,4.929],[1867.8,4.913],[1868.9,4.929],[1869.9,5.022],[1870.9,5.471],[1871.9,5.230],[1872.9,5.012],[1873.9,5.085],[1875.0,5.090],[1876.0,5.038],[1877.0,5.007],[1878.0,5.048],[1879.0,4.981],[1880.0,4.970],[1881.1,5.354],[1882.1,5.282],[1883.1,5.126],[1884.1,5.022],[1885.1,4.929],[1886.2,4.970],[1887.2,4.958],[1888.2,5.219],[1889.2,5.385],[1890.2,5.520],[1891.2,5.235],[1892.3,5.790],[1893.3,5.790],[1894.3,5.894],[1895.3,4.991],[1896.3,4.867],[1897.3,4.960],[1898.4,5.022],[1899.4,4.958],[1900.4,4.960],[1901.4,5.240],[1902.4,5.686],[1903.4,5.847],[1904.5,5.847],[1905.5,5.821],[1906.5,4.815],[1907.5,4.680],[1908.5,4.618],[1909.5,4.602],[1910.6,4.659],[1911.6,4.867],[1912.6,5.489],[1913.6,5.801],[1914.6,5.956],[1915.6,6.101],[1916.7,6.158],[1917.7,6.166],[1918.7,6.172],[1919.7,6.174],[1920.5,5.992],[1921.2,6.075],[1922.3,5.790],[1922.8,5.904],[1923.8,5.489],[1924.3,5.007],[1925.3,5.531],[1926.3,5.904],[1927.4,5.915],[1928.4,5.904],[1929.4,5.915],[1930.4,5.946],[1931.4,5.956],[1932.4,5.951],[1933.5,5.489],[1934.5,5.022],[1935.5,4.913],[1936.5,5.053],[1937.5,5.157],[1938.5,5.178],[1939.6,5.406],[1940.6,5.832],[1941.6,5.852],[1942.6,5.489],[1943.6,5.173],[1944.6,5.531],[1945.7,5.500],[1946.7,5.095],[1947.7,5.323],[1948.7,5.717],[1949.7,5.842],[1950.8,5.956],[1951.8,6.068],[1952.8,6.068],[1953.8,6.060],[1954.8,6.039],[1955.8,5.484],[1956.9,5.686],[1957.9,5.593],[1958.9,5.469],[1959.9,5.365],[1960.9,5.743],[1961.9,5.487],[1963.0,5.821],[1964.0,5.634],[1965.0,5.385],[1966.0,5.660],[1967.0,5.541],[1968.0,5.593],[1969.1,5.489],[1970.1,5.707],[1971.1,5.743],[1972.1,5.634],[1973.1,5.743],[1974.1,5.759],[1975.2,5.780],[1976.2,5.811],[1977.2,5.899],[1978.2,5.697],[1979.2,5.448],[1980.2,5.443],[1981.0,5.614],[1981.8,5.489],[1982.3,5.422],[1983.3,5.500],[1984.3,5.458],[1985.3,5.448],[1986.4,5.334],[1987.4,5.406],[1988.4,5.349],[1989.4,5.489],[1990.4,5.406],[1991.2,5.500]];

// ---------- drawing ----------
const t0 = new Date(startTime);
const t1 = new Date(endTime);
const data = [...part1, ...part2, ...part3, ...part4, ...part5].map(([h, v]) => ({ t: new Date(t0.getTime() + h * 3600000), v }));

const plot = { left: 519, right: 3621, top: 167, bottom: 2003 };
const svg = d3.select("#chart");
svg.append("rect").attr("width", 4000).attr("height", 2250).attr("fill", "#fff");

const x = d3.scaleUtc().domain([t0, t1]).range([plot.left, plot.right]);
const y = d3.scaleLinear().domain([4.6, 6.6]).range([plot.bottom, plot.top]);
const y2 = d3.scaleLinear().domain([4.6 * mlToMg, 6.6 * mlToMg]).range([plot.bottom, plot.top]);

const axisColor = "#262626";
const mono = "'DejaVu Sans Mono', monospace";

// data line
svg.append("path")
  .datum(data)
  .attr("fill", "none")
  .attr("stroke", "#0072BD")
  .attr("stroke-width", 1.2)
  .attr("stroke-linejoin", "round")
  .attr("d", d3.line().x(d => x(d.t)).y(d => y(d.v)));

// left axis
const gL = svg.append("g")
  .attr("transform", `translate(${plot.left},0)`)
  .call(d3.axisLeft(y).tickValues(yTicksMl).tickSize(-31).tickSizeOuter(0).tickPadding(6)
    .tickFormat(d => String(+d.toFixed(1))));
gL.selectAll(".domain, line").attr("stroke", axisColor).attr("stroke-width", 1.2);
gL.selectAll("text").attr("font-family", mono).attr("font-size", 20).attr("fill", axisColor);

// right axis
const gR = svg.append("g")
  .attr("transform", `translate(${plot.right},0)`)
  .call(d3.axisRight(y2).tickValues(yTicksMg).tickSize(-31).tickSizeOuter(0).tickPadding(5)
    .tickFormat(d => String(d)));
gR.selectAll(".domain, line").attr("stroke", "#000").attr("stroke-width", 1.2);
gR.selectAll("text").attr("font-family", "'DejaVu Sans', sans-serif").attr("font-size", 20).attr("fill", "#000");

// bottom axis
const xTicks = xTickTimes.map(s => new Date(s));
const gB = svg.append("g")
  .attr("transform", `translate(0,${plot.bottom})`)
  .call(d3.axisBottom(x).tickValues(xTicks).tickSize(-31).tickSizeOuter(0).tickFormat(""));
gB.selectAll(".domain, line").attr("stroke", axisColor).attr("stroke-width", 1.2);
gB.selectAll("text").remove();
const fmtDay = d3.utcFormat("%d %b");
const fmtYear = d3.utcFormat("%Y");
const tickLabels = svg.append("g").attr("font-family", mono).attr("font-size", 20).attr("fill", axisColor).attr("text-anchor", "middle");
tickLabels.selectAll("text.day").data(xTicks).join("text").attr("class", "day")
  .attr("x", d => x(d) - 9).attr("y", plot.bottom + 24).text(d => fmtDay(d));
tickLabels.selectAll("text.year").data(xTicks).join("text").attr("class", "year")
  .attr("x", d => x(d) + 16).attr("y", plot.bottom + 52).text(d => fmtYear(d));

// axis labels
const midY = (plot.top + plot.bottom) / 2;
svg.append("text").attr("transform", `translate(462,${midY}) rotate(-90)`)
  .attr("text-anchor", "middle").attr("font-family", mono).attr("font-size", 40).attr("fill", axisColor).text(leftLabel);
svg.append("text").attr("transform", `translate(3706,${midY}) rotate(-90)`)
  .attr("text-anchor", "middle").attr("font-family", mono).attr("font-size", 40).attr("fill", "#000").text(rightLabel);

// title
svg.append("text").attr("x", (plot.left + plot.right) / 2).attr("y", 153)
  .attr("text-anchor", "middle").attr("font-family", mono).attr("font-weight", "bold")
  .attr("font-size", 31).attr("fill", "#000").text(chartTitle);
</script>
</body></html>
